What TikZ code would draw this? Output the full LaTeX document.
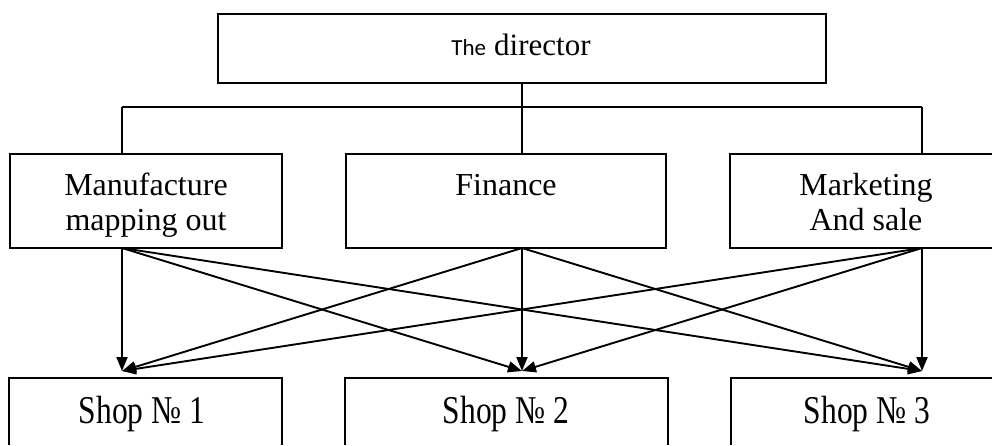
\documentclass[tikz,border=0pt]{standalone}
\usepackage{fontspec}
\setmainfont{Liberation Serif}
\newfontfamily\labelsans{Carlito}
\usetikzlibrary{arrows.meta}
\begin{document}
\begin{tikzpicture}[x=1pt,y=-1pt,
  box/.style={draw, line width=1.9pt, rectangle, inner sep=0pt, outer sep=0pt, anchor=north west},
  openbox/.style={rectangle, inner sep=0pt, outer sep=0pt, anchor=north west},
  link/.style={line width=1.9pt},
  feed/.style={line width=1.9pt, -{Triangle[length=14pt,width=11pt]}},
  dept/.style={font=\fontsize{32}{35}\selectfont, align=center, anchor=base, inner sep=0pt},
  shoptext/.style={anchor=base, inner sep=0pt}
]
\useasboundingbox (0,0) rectangle (992,445);

% director
\node[box, minimum width=608pt, minimum height=69pt] (dir) at (218,14) {};
\node[anchor=base, inner sep=0pt] (dirtext) at (521,55)
  {{\labelsans\fontsize{23}{26}\selectfont The}\hspace{8pt}{\fontsize{31}{34}\selectfont director}};

% departments (the right-hand box runs past the page edge)
\node[box, minimum width=272pt, minimum height=94pt] (man) at (10,154) {};
\node[box, minimum width=320pt, minimum height=94pt] (fin) at (346,154) {};
\node[openbox, minimum width=262pt, minimum height=94pt] (mkt) at (730,154) {};
\draw[link] (mkt.north east) -- (mkt.north west) -- (mkt.south west) -- (mkt.south east);
\node[dept] (mantext) at (146,230) {Manufacture\\mapping out};
\node[dept] (fintext) at (506,195) {Finance};
\node[dept] (mkttext) at (866,230) {Marketing\\And sale};

% shops (the bottom row runs past the page edge)
\node[openbox, minimum width=273pt, minimum height=67pt] (s1) at (9,378) {};
\node[openbox, minimum width=323pt, minimum height=67pt] (s2) at (345,378) {};
\node[openbox, minimum width=261pt, minimum height=67pt] (s3) at (731,378) {};
\draw[link] (s1.south west) -- (s1.north west) -- (s1.north east) -- (s1.south east);
\draw[link] (s2.south west) -- (s2.north west) -- (s2.north east) -- (s2.south east);
\draw[link] (s3.south west) -- (s3.north west) -- (s3.north east);
\node[shoptext] (s1text) at (142,423) {\scalebox{1}[1.25]{\fontsize{31.5}{34}\selectfont Shop №~1}};
\node[shoptext] (s2text) at (506,423) {\scalebox{1}[1.25]{\fontsize{31.5}{34}\selectfont Shop №~2}};
\node[shoptext] (s3text) at (867,423) {\scalebox{1}[1.25]{\fontsize{31.5}{34}\selectfont Shop №~3}};

% bus from the director
\coordinate (c1) at (122,107);
\coordinate (c2) at (522,107);
\coordinate (c3) at (922,107);
\draw[link] (c2 |- dir.south) -- (c2);
\draw[link] (c1) -- (c3);
\draw[link] (c1) -- (c1 |- man.north);
\draw[link] (c2) -- (c2 |- fin.north);
\draw[link] (c3) -- (c3 |- mkt.north);

% every department feeds every shop
\coordinate (m1) at (c1 |- man.south);
\coordinate (m2) at (c2 |- fin.south);
\coordinate (m3) at (c3 |- mkt.south);
\coordinate (t1) at (122,371);
\coordinate (t2) at (522,371);
\coordinate (t3) at (922,371);
\foreach \a in {m1,m2,m3}
  \foreach \b in {t1,t2,t3}
    \draw[feed] (\a) -- (\b);
\end{tikzpicture}
\end{document}
